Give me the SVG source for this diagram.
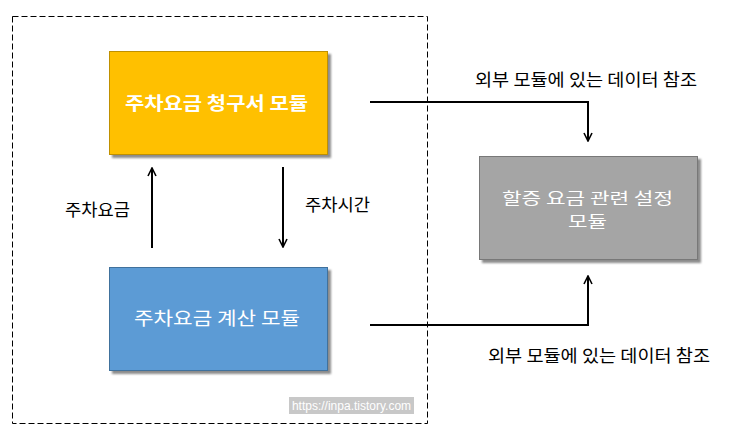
<svg xmlns="http://www.w3.org/2000/svg" width="739" height="436" viewBox="0 0 739 436">
<defs>
<filter id="sh" x="-10%" y="-10%" width="130%" height="130%">
<feDropShadow dx="3" dy="3" stdDeviation="1.2" flood-color="#000" flood-opacity="0.45"/>
</filter>
<marker id="ah" viewBox="0 0 10 10" refX="9" refY="5" markerWidth="10" markerHeight="10" markerUnits="userSpaceOnUse" orient="auto">
<path d="M1,1 L9,5 L1,9" fill="none" stroke="#000" stroke-width="1.6"/>
</marker>
</defs>
<style>
text{font-family:"Malgun Gothic","Noto Sans CJK KR",sans-serif;}
.lbl{font-size:17px;fill:#000;}
.box{font-size:18px;fill:#fff;}
.box2{font-size:16px;fill:#fff;}
.conn{fill:none;stroke:#000;stroke-width:2;}
</style>
<rect width="739" height="436" fill="#fff"/>
<rect x="12.5" y="16.5" width="415" height="407" fill="none" stroke="#000" stroke-width="1" stroke-dasharray="6,3"/>
<g id="billing">
<rect x="109.5" y="51.5" width="218" height="103" fill="#FFC000" stroke="#BF9000" stroke-width="1" filter="url(#sh)"/>
<text class="box" x="125" y="110" font-weight="bold" textLength="183" lengthAdjust="spacingAndGlyphs">주차요금 청구서 모듈</text>
</g>
<g id="calc">
<rect x="109.5" y="267.5" width="218" height="103" fill="#5B9BD5" stroke="#41719C" stroke-width="1" filter="url(#sh)"/>
<text class="box" x="134" y="325" textLength="166" lengthAdjust="spacingAndGlyphs">주차요금 계산 모듈</text>
</g>
<g id="discount">
<rect x="479.5" y="156.5" width="218" height="103" fill="#A5A5A5" stroke="#787878" stroke-width="1" filter="url(#sh)"/>
<text class="box2" x="502" y="204" textLength="171" lengthAdjust="spacingAndGlyphs">할증 요금 관련 설정</text>
<text class="box2" x="568" y="227" textLength="39" lengthAdjust="spacingAndGlyphs">모듈</text>
</g>
<g id="connectors">
<path class="conn" d="M152,248 V168" marker-end="url(#ah)"/>
<path class="conn" d="M283,167 V247" marker-end="url(#ah)"/>
<path class="conn" d="M370,102 H588 V141" marker-end="url(#ah)"/>
<path class="conn" d="M370,325 H588 V276" marker-end="url(#ah)"/>
</g>
<text class="lbl" x="65" y="216" textLength="65" lengthAdjust="spacingAndGlyphs">주차요금</text>
<text class="lbl" x="305" y="211" textLength="65" lengthAdjust="spacingAndGlyphs">주차시간</text>
<text class="lbl" x="475" y="86" textLength="222" lengthAdjust="spacingAndGlyphs">외부 모듈에 있는 데이터 참조</text>
<text class="lbl" x="488" y="362" textLength="222" lengthAdjust="spacingAndGlyphs">외부 모듈에 있는 데이터 참조</text>
<rect x="289" y="397" width="125" height="17" fill="#c8c8c8"/>
<text x="351.5" y="410" text-anchor="middle" font-size="12" fill="#fff" style="font-family:'Liberation Sans',sans-serif">https://inpa.tistory.com</text>
</svg>
